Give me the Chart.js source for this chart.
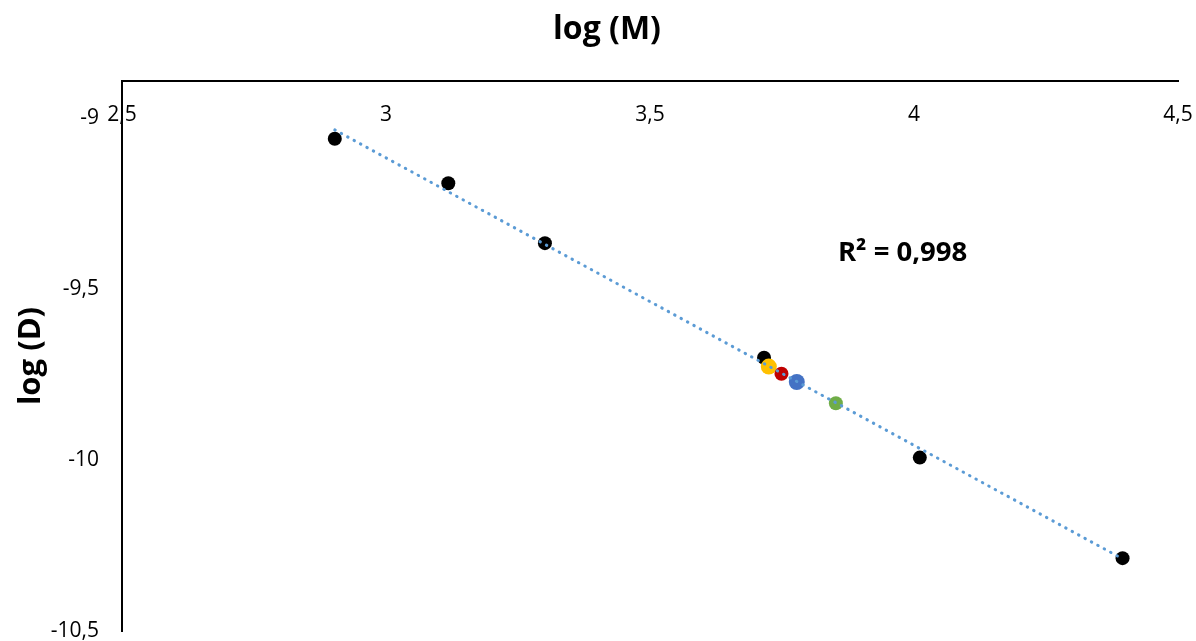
<!DOCTYPE html>
<html>
<head>
<meta charset="utf-8">
<script src="https://cdn.jsdelivr.net/npm/chart.js@4"></script>
<style>
  body { margin: 0; background: #fff; }
  #wrap { width: 1196px; height: 641px; }
</style>
</head>
<body>
<div id="wrap"><canvas id="chart"></canvas></div>
<script>
// values
const blackX = [2.903, 3.118, 3.301, 3.716, 4.011, 4.395];
const blackY = [-9.061, -9.191, -9.366, -9.701, -9.993, -10.287];
const yellowPt = [3.725, -9.727];
const redPt = [3.749, -9.748];
const bluePt = [3.778, -9.772];
const greenPt = [3.852, -9.834];
const trendX = [2.903, 4.395];
const trendY = [-9.035, -10.289];
const xTicks = [2.5, 3, 3.5, 4, 4.5];
const yTicks = [-9, -9.5, -10, -10.5];
const rSquared = 'R² = 0,998';

const FONT = "'Open Sans', 'Liberation Sans', sans-serif";

function comma(v) {
    return String(v).replace('.', ',');
}

// R² label and the x title (centred on the whole figure, like the original)
const extraText = {
    id: 'extraText',
    afterDatasetsDraw(chart, args, opts) {
        const ctx = chart.ctx;
        const px = chart.scales.x.getPixelForValue(opts.x);
        const py = chart.scales.y.getPixelForValue(opts.y);
        ctx.save();
        ctx.fillStyle = '#000';
        ctx.textBaseline = 'middle';
        ctx.textAlign = 'left';
        ctx.font = 'bold 27.5px ' + FONT;
        ctx.fillText(opts.text, px, py);
        ctx.textAlign = 'center';
        ctx.font = 'bold 32px ' + FONT;
        ctx.fillText(opts.title, opts.titleX, opts.titleY);
        ctx.restore();
    }
};

new Chart(document.getElementById('chart'), {
    type: 'scatter',
    data: {
        datasets: [
            {
                label: 'trend',
                type: 'line',
                data: trendX.map((x, i) => ({ x: x, y: trendY[i] })),
                borderColor: '#5B9BD5',
                borderWidth: 3,
                borderDash: [0.5, 6.8],
                borderCapStyle: 'round',
                pointRadius: 0,
                fill: false
            },
            {
                label: 'green',
                data: [{ x: greenPt[0], y: greenPt[1] }],
                backgroundColor: '#70AD47',
                borderWidth: 0,
                pointRadius: 7
            },
            {
                label: 'blue',
                data: [{ x: bluePt[0], y: bluePt[1] }],
                backgroundColor: '#4472C4',
                borderWidth: 0,
                pointRadius: 8
            },
            {
                label: 'red',
                data: [{ x: redPt[0], y: redPt[1] }],
                backgroundColor: '#C00000',
                borderWidth: 0,
                pointRadius: 7
            },
            {
                label: 'yellow',
                data: [{ x: yellowPt[0], y: yellowPt[1] }],
                backgroundColor: '#FFC000',
                borderWidth: 0,
                pointRadius: 8
            },
            {
                label: 'black',
                data: blackX.map((x, i) => ({ x: x, y: blackY[i] })),
                backgroundColor: '#000000',
                borderWidth: 0,
                pointRadius: 7
            }
        ]
    },
    options: {
        responsive: true,
        maintainAspectRatio: false,
        animation: false,
        layout: { padding: { right: 18, bottom: 10 } },
        plugins: {
            legend: { display: false },
            tooltip: { enabled: false },
            extraText: { text: rSquared, x: 3.856, y: -9.395, title: 'log (M)', titleX: 607, titleY: 30 }
        },
        scales: {
            x: {
                type: 'linear',
                position: 'top',
                min: 2.5,
                max: 4.5,
                afterBuildTicks: (s) => { s.ticks = xTicks.map(v => ({ value: v })); },
                afterFit: (s) => { s.height = 81; s.paddingLeft = 0; s.paddingRight = 0; },
                grid: { display: false, drawTicks: false },
                border: { display: true, color: '#000', width: 2 },
                ticks: {
                    mirror: true,
                    padding: 21,
                    autoSkip: false,
                    maxRotation: 0,
                    color: '#000',
                    font: { family: FONT, size: 21 },
                    callback: (v) => comma(v)
                },
                title: { display: false }
            },
            y: {
                type: 'linear',
                min: -10.5,
                max: -8.892,
                afterBuildTicks: (s) => { s.ticks = yTicks.map(v => ({ value: v })); },
                afterFit: (s) => { s.width = 122; s.paddingTop = 0; s.paddingBottom = 0; },
                grid: { display: false, drawTicks: false },
                border: { display: true, color: '#000', width: 2 },
                ticks: {
                    padding: 23,
                    autoSkip: false,
                    color: '#000',
                    font: { family: FONT, size: 21 },
                    callback: (v) => comma(v)
                },
                title: {
                    display: true,
                    text: 'log (D)',
                    color: '#000',
                    padding: { top: 13, bottom: 0 },
                    font: { family: FONT, size: 31, weight: 'bold' }
                }
            }
        }
    },
    plugins: [extraText]
});
</script>
</body>
</html>
